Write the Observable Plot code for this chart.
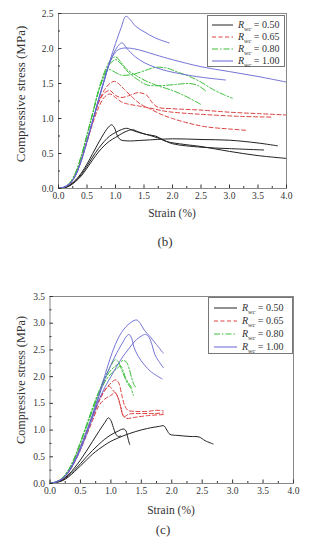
<!DOCTYPE html>
<html><head><meta charset="utf-8">
<script src="https://cdn.jsdelivr.net/npm/d3@7"></script>
<script src="https://cdn.jsdelivr.net/npm/@observablehq/plot@0.6"></script>
<style>
body{margin:0;background:#fff;}
#root{position:relative;width:310px;height:550px;overflow:hidden;font-family:"Liberation Serif","Times New Roman","DejaVu Serif",serif;color:#333;}
.ylab{position:absolute;transform:translate(-50%,-50%) rotate(-90deg);white-space:nowrap;}
.cent{position:absolute;transform:translate(-50%,-50%);white-space:nowrap;}
.legend{position:absolute;border:1px solid #777;background:#fff;box-sizing:border-box;}
.row{position:absolute;left:0;height:12px;display:flex;align-items:center;font-size:10px;white-space:nowrap;line-height:12px;}
.row svg{display:block;}
.plot{position:absolute;left:0;}
</style></head><body><div id="root"></div>
<script>
// ---------- data ----------
const xTickLabels = [0, 0.5, 1, 1.5, 2, 2.5, 3, 3.5, 4];
const xMinorTicks = [0.25, 0.75, 1.25, 1.75, 2.25, 2.75, 3.25, 3.75];
const yTicksB = [0, 0.5, 1, 1.5, 2, 2.5];
const yMinorB = [0.25, 0.75, 1.25, 1.75, 2.25];
const yTicksC = [0, 0.5, 1, 1.5, 2, 2.5, 3, 3.5];
const yMinorC = [0.25, 0.75, 1.25, 1.75, 2.25, 2.75, 3.25];
const seriesNames = ["0.50", "0.65", "0.80", "1.00"];
const seriesColors = ["#222222", "#dd4040", "#3cbf3c", "#6464d2"];
const seriesDash = [null, "4,2.5", "6,2,1.5,2", null];

// panel (b)  [strain %, stress MPa]
const b050_1 = [[0,0],[0.1,0.01],[0.2,0.05],[0.3,0.12],[0.4,0.22],[0.5,0.35],[0.6,0.5],[0.7,0.65],[0.8,0.79],[0.88,0.88],[0.93,0.91],[0.98,0.87],[1.03,0.76],[1.08,0.7],[1.2,0.68],[1.5,0.69],[2.0,0.71],[2.5,0.7],[3.0,0.69],[3.5,0.65],[3.84,0.61]];
const b050_2 = [[0,0],[0.1,0.01],[0.2,0.05],[0.3,0.11],[0.4,0.2],[0.5,0.32],[0.6,0.45],[0.7,0.57],[0.8,0.67],[0.9,0.75],[1.0,0.8],[1.1,0.84],[1.2,0.86],[1.3,0.83],[1.45,0.79],[1.6,0.76],[1.75,0.72],[1.9,0.67],[2.2,0.63],[2.5,0.6],[3.0,0.53],[3.5,0.47],[4.0,0.43]];
const b050_3 = [[0,0],[0.1,0.01],[0.2,0.04],[0.3,0.1],[0.4,0.18],[0.5,0.29],[0.6,0.41],[0.7,0.52],[0.8,0.61],[0.9,0.68],[1.0,0.73],[1.1,0.78],[1.2,0.82],[1.3,0.84],[1.4,0.81],[1.55,0.77],[1.7,0.75],[1.85,0.69],[2.0,0.64],[2.5,0.59],[3.0,0.57],[3.6,0.55]];
const b065_1 = [[0,0],[0.1,0.02],[0.2,0.07],[0.3,0.2],[0.4,0.42],[0.5,0.68],[0.6,0.96],[0.7,1.22],[0.8,1.36],[0.9,1.4],[1.0,1.33],[1.1,1.3],[1.25,1.33],[1.4,1.37],[1.55,1.33],[1.65,1.22],[1.75,1.16],[2.0,1.14],[2.5,1.12],[3.0,1.09],[3.5,1.07],[4.0,1.05]];
const b065_2 = [[0,0],[0.1,0.02],[0.2,0.07],[0.3,0.19],[0.4,0.4],[0.5,0.66],[0.6,0.93],[0.7,1.15],[0.8,1.3],[0.9,1.35],[1.0,1.3],[1.1,1.24],[1.2,1.21],[1.4,1.18],[1.6,1.15],[1.9,1.1],[2.5,1.06],[3.2,1.03],[3.75,1.02]];
const b065_3 = [[0,0],[0.1,0.02],[0.2,0.07],[0.3,0.2],[0.4,0.41],[0.5,0.68],[0.6,0.96],[0.7,1.22],[0.8,1.4],[0.9,1.5],[0.98,1.53],[1.05,1.5],[1.15,1.42],[1.3,1.3],[1.45,1.2],[1.6,1.14],[1.8,1.06],[2.0,1.0],[2.3,0.93],[2.6,0.88],[3.0,0.85],[3.32,0.83]];
const b080_1 = [[0,0],[0.1,0.02],[0.2,0.08],[0.3,0.23],[0.4,0.47],[0.5,0.77],[0.6,1.08],[0.7,1.4],[0.8,1.65],[0.9,1.82],[1.0,1.88],[1.1,1.8],[1.2,1.7],[1.35,1.62],[1.5,1.55],[1.7,1.48],[2.0,1.4],[2.2,1.33],[2.5,1.2]];
const b080_2 = [[0,0],[0.1,0.02],[0.2,0.08],[0.3,0.22],[0.4,0.46],[0.5,0.76],[0.6,1.07],[0.7,1.38],[0.8,1.6],[0.88,1.7],[0.95,1.68],[1.1,1.62],[1.3,1.63],[1.5,1.68],[1.7,1.73],[1.9,1.72],[2.1,1.66],[2.3,1.6],[2.5,1.52],[2.7,1.42],[2.9,1.34],[3.05,1.29]];
const b080_3 = [[0,0],[0.1,0.02],[0.2,0.08],[0.3,0.22],[0.4,0.46],[0.5,0.76],[0.6,1.07],[0.7,1.38],[0.8,1.62],[0.9,1.78],[1.0,1.84],[1.05,1.82],[1.2,1.68],[1.4,1.55],[1.55,1.48],[1.8,1.47],[2.1,1.49],[2.3,1.5],[2.45,1.47],[2.6,1.38]];
const b100_1 = [[0,0],[0.1,0.02],[0.2,0.07],[0.3,0.19],[0.4,0.4],[0.5,0.68],[0.6,0.97],[0.7,1.27],[0.8,1.55],[0.9,1.82],[1.0,2.07],[1.1,2.3],[1.18,2.46],[1.25,2.42],[1.35,2.32],[1.5,2.24],[1.7,2.15],[1.94,2.08]];
const b100_2 = [[0,0],[0.1,0.02],[0.2,0.07],[0.3,0.19],[0.4,0.4],[0.5,0.68],[0.6,0.97],[0.7,1.26],[0.8,1.54],[0.9,1.8],[1.0,1.98],[1.07,2.06],[1.12,2.08],[1.2,2.0],[1.35,1.88],[1.5,1.8],[1.7,1.73],[1.9,1.68],[2.2,1.63],[2.5,1.59],[2.93,1.55]];
const b100_3 = [[0,0],[0.1,0.02],[0.2,0.07],[0.3,0.19],[0.4,0.4],[0.5,0.67],[0.6,0.96],[0.7,1.25],[0.8,1.53],[0.9,1.8],[1.0,1.95],[1.1,2.0],[1.3,2.0],[1.5,1.96],[1.7,1.91],[2.0,1.84],[2.5,1.74],[3.0,1.67],[3.5,1.6],[4.0,1.52]];

// panel (c)
const c050_1 = [[0,0],[0.1,0.02],[0.2,0.07],[0.3,0.16],[0.4,0.29],[0.5,0.44],[0.6,0.61],[0.7,0.79],[0.8,0.97],[0.9,1.14],[0.96,1.23],[1.0,1.18],[1.04,1.05],[1.08,0.93],[1.12,0.88],[1.16,0.89]];
const c050_2 = [[0,0],[0.1,0.02],[0.2,0.06],[0.3,0.14],[0.4,0.25],[0.5,0.37],[0.6,0.5],[0.7,0.62],[0.8,0.73],[0.9,0.83],[1.0,0.91],[1.1,0.97],[1.2,1.02],[1.24,1.0],[1.27,0.9],[1.29,0.8],[1.31,0.73]];
const c050_3 = [[0,0],[0.1,0.02],[0.2,0.05],[0.3,0.12],[0.4,0.22],[0.5,0.33],[0.6,0.44],[0.7,0.55],[0.8,0.64],[0.9,0.72],[1.0,0.79],[1.2,0.89],[1.4,0.97],[1.6,1.03],[1.8,1.07],[1.87,1.08],[1.92,1.0],[1.97,0.92],[2.1,0.9],[2.3,0.88],[2.45,0.87],[2.55,0.8],[2.68,0.74]];
const c065_1 = [[0,0],[0.1,0.03],[0.2,0.09],[0.3,0.22],[0.4,0.42],[0.5,0.67],[0.6,0.95],[0.7,1.24],[0.8,1.52],[0.9,1.74],[1.0,1.88],[1.08,1.94],[1.13,1.88],[1.18,1.65],[1.23,1.45],[1.28,1.37],[1.4,1.35],[1.6,1.35],[1.75,1.37],[1.86,1.36]];
const c065_2 = [[0,0],[0.1,0.03],[0.2,0.09],[0.3,0.22],[0.4,0.42],[0.5,0.68],[0.6,0.97],[0.7,1.27],[0.8,1.55],[0.9,1.75],[0.97,1.82],[1.03,1.75],[1.1,1.65],[1.15,1.48],[1.2,1.28],[1.25,1.22],[1.4,1.24],[1.6,1.27],[1.86,1.29]];
const c065_3 = [[0,0],[0.1,0.03],[0.2,0.08],[0.3,0.2],[0.4,0.39],[0.5,0.63],[0.6,0.9],[0.7,1.18],[0.8,1.45],[0.9,1.58],[1.0,1.65],[1.07,1.7],[1.12,1.6],[1.17,1.4],[1.21,1.25],[1.3,1.3],[1.5,1.31],[1.7,1.31],[1.86,1.32]];
const c080_1 = [[0,0],[0.1,0.03],[0.2,0.1],[0.3,0.25],[0.4,0.48],[0.5,0.78],[0.6,1.1],[0.7,1.42],[0.8,1.72],[0.9,1.98],[1.0,2.2],[1.07,2.32],[1.12,2.28],[1.18,2.12],[1.23,1.98],[1.28,1.86],[1.33,1.78],[1.37,1.65]];
const c080_2 = [[0,0],[0.1,0.03],[0.2,0.1],[0.3,0.24],[0.4,0.47],[0.5,0.76],[0.6,1.08],[0.7,1.4],[0.8,1.7],[0.9,1.95],[1.0,2.12],[1.1,2.22],[1.2,2.3],[1.25,2.28],[1.3,2.15],[1.34,1.98],[1.38,1.85],[1.42,1.78]];
const c080_3 = [[0,0],[0.1,0.03],[0.2,0.1],[0.3,0.24],[0.4,0.46],[0.5,0.75],[0.6,1.06],[0.7,1.37],[0.8,1.66],[0.9,1.9],[1.0,2.05],[1.1,2.15],[1.16,2.2],[1.2,2.12],[1.24,1.98],[1.29,1.88],[1.34,1.8]];
const c100_1 = [[0,0],[0.1,0.03],[0.2,0.09],[0.3,0.22],[0.4,0.42],[0.5,0.68],[0.6,0.98],[0.7,1.3],[0.8,1.65],[0.9,2.02],[1.0,2.38],[1.1,2.67],[1.2,2.87],[1.3,2.99],[1.38,3.05],[1.43,3.06],[1.48,3.0],[1.55,2.87],[1.65,2.74],[1.75,2.6],[1.86,2.44]];
const c100_2 = [[0,0],[0.1,0.03],[0.2,0.09],[0.3,0.21],[0.4,0.41],[0.5,0.66],[0.6,0.95],[0.7,1.28],[0.8,1.62],[0.9,1.95],[1.0,2.22],[1.1,2.45],[1.2,2.65],[1.26,2.76],[1.3,2.79],[1.34,2.72],[1.38,2.55],[1.45,2.38],[1.55,2.22],[1.65,2.1],[1.75,2.02],[1.84,1.96]];
const c100_3 = [[0,0],[0.1,0.03],[0.2,0.08],[0.3,0.2],[0.4,0.39],[0.5,0.63],[0.6,0.92],[0.7,1.23],[0.8,1.55],[0.9,1.8],[1.0,2.0],[1.1,2.2],[1.2,2.38],[1.3,2.53],[1.4,2.67],[1.5,2.76],[1.57,2.79],[1.63,2.73],[1.68,2.58],[1.72,2.42],[1.78,2.3],[1.86,2.17]];

const panelB = [[b050_1,b050_2,b050_3],[b065_1,b065_2,b065_3],[b080_1,b080_2,b080_3],[b100_1,b100_2,b100_3]];
const panelC = [[c050_1,c050_2,c050_3],[c065_1,c065_2,c065_3],[c080_1,c080_2,c080_3],[c100_1,c100_2,c100_3]];

// ---------- drawing ----------
const root = document.getElementById("root");
const fmt = d3.format(".1f");
const FONT = '"Liberation Serif", "Times New Roman", "DejaVu Serif", serif';

function rowsOf(curves) {
  const out = [];
  curves.forEach((c, i) => c.forEach(([x, y]) => out.push({id: i, x, y})));
  return out;
}

function makePanel(groups, cfg) {
  const marks = [];
  groups.forEach((curves, gi) => {
    marks.push(Plot.line(rowsOf(curves), {
      x: "x", y: "y", z: "id", curve: "catmull-rom",
      stroke: seriesColors[gi], strokeWidth: gi === 3 ? 0.9 : 1,
      strokeDasharray: seriesDash[gi]
    }));
  });
  marks.push(Plot.frame({stroke: "#888", strokeWidth: 1}));
  marks.push(Plot.axisX({ticks: xTickLabels, tickSize: 0, tickPadding: 4, tickFormat: fmt, label: null, fontFamily: FONT}));
  marks.push(Plot.axisX({ticks: xTickLabels, tickSize: -3.5, tickFormat: () => "", label: null}));
  marks.push(Plot.axisX({ticks: xMinorTicks, tickSize: -2, tickFormat: () => "", label: null}));
  marks.push(Plot.axisY({ticks: cfg.yTicks, tickSize: 0, tickPadding: 5, tickFormat: fmt, label: null, fontFamily: FONT}));
  marks.push(Plot.axisY({ticks: cfg.yTicks, tickSize: -3.5, tickFormat: () => "", label: null}));
  marks.push(Plot.axisY({ticks: cfg.yMinor, tickSize: -2, tickFormat: () => "", label: null}));
  const svg = Plot.plot({
    width: 310, height: cfg.height,
    marginLeft: cfg.ml, marginRight: cfg.mr, marginTop: cfg.mt, marginBottom: cfg.mb,
    x: {domain: [0, 4]},
    y: {domain: cfg.yDomain},
    style: {fontFamily: FONT, fontSize: "9.5px", color: "#333", background: "transparent", overflow: "visible"},
    marks
  });
  svg.classList.add("plot");
  svg.style.top = cfg.top + "px";
  root.appendChild(svg);
}

makePanel(panelB, {top: 0, height: 205, ml: 58, mr: 24, mt: 13, mb: 17, yDomain: [0, 2.5], yTicks: yTicksB, yMinor: yMinorB});
makePanel(panelC, {top: 280, height: 220, ml: 49.5, mr: 17, mt: 16, mb: 17, yDomain: [0, 3.5], yTicks: yTicksC, yMinor: yMinorC});

function addText(cls, x, y, txt, size) {
  const d = document.createElement("div");
  d.className = cls;
  d.style.left = x + "px"; d.style.top = y + "px";
  d.style.fontSize = size + "px";
  d.style.fontFamily = FONT;
  d.textContent = txt;
  root.appendChild(d);
}
addText("ylab", 21, 94, "Compressive stress (MPa)", 13);
addText("cent", 172, 213, "Strain (%)", 11.5);
addText("cent", 165, 242, "(b)", 13);
addText("ylab", 21, 380, "Compressive stress (MPa)", 12.2);
addText("cent", 171, 510, "Strain (%)", 11.5);
addText("cent", 163, 530, "(c)", 13);

function addLegend(left, top, w, h, rowTops, lineX0, lineX1, textX) {
  const box = document.createElement("div");
  box.className = "legend";
  box.style.left = left + "px"; box.style.top = top + "px";
  box.style.width = w + "px"; box.style.height = h + "px";
  box.style.fontFamily = FONT;
  seriesNames.forEach((name, i) => {
    const r = document.createElement("div");
    r.className = "row";
    r.style.top = (rowTops[i] - 6) + "px";
    const ns = "http://www.w3.org/2000/svg";
    const s = document.createElementNS(ns, "svg");
    s.setAttribute("width", textX); s.setAttribute("height", 12);
    const l = document.createElementNS(ns, "line");
    l.setAttribute("x1", lineX0); l.setAttribute("x2", lineX1);
    l.setAttribute("y1", 6); l.setAttribute("y2", 6);
    l.setAttribute("stroke", seriesColors[i]);
    l.setAttribute("stroke-width", 1);
    if (seriesDash[i]) l.setAttribute("stroke-dasharray", seriesDash[i]);
    s.appendChild(l);
    r.appendChild(s);
    const t = document.createElement("span");
    t.innerHTML = '<i>R</i><sub style="font-size:6.5px;font-style:italic;line-height:0;">wc</sub> = ' + name;
    r.appendChild(t);
    box.appendChild(r);
  });
  root.appendChild(box);
}
addLegend(207, 15, 78, 52, [8.5, 20.5, 32.5, 44.5], 4, 25, 30);
addLegend(208, 297, 85, 57, [10, 23, 36, 49], 5, 28, 33);
</script></body></html>
